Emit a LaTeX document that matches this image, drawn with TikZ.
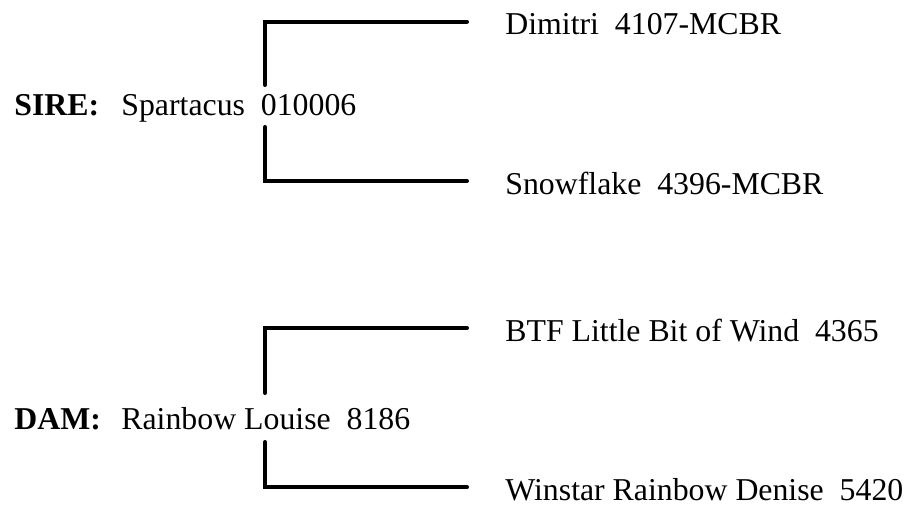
\documentclass[tikz,border=0pt]{standalone}
\usepackage{fontspec}
\setmainfont{Liberation Serif}

\begin{document}
\begin{tikzpicture}[x=0.5pt, y=-0.5pt, font=\fontsize{15.9}{18}\selectfont,
	txt/.style={anchor=base west, inner sep=0pt},
	bracket/.style={line width=2pt, line cap=round}]

	\def \xbar{265};
	\def \xtxt{505};

	\useasboundingbox (0,0) rectangle (911,506);

	% sire
	\node[txt] (sirelabel) at (14,116) {\textbf{SIRE:}};
	\node[txt] (sire) at (121,116) {Spartacus~~010006};
	\node[txt] (dimitri) at (\xtxt,35) {Dimitri~~4107-MCBR};
	\node[txt] (snowflake) at (\xtxt,195) {Snowflake~~4396-MCBR};

	\coordinate (sireup) at (\xbar,85);
	\coordinate (siredown) at (\xbar,127);

	\draw[bracket] (sireup) |- ([xshift=-19pt,yshift=1.5pt]dimitri.west);
	\draw[bracket] (siredown) |- ([xshift=-19pt,yshift=1.5pt]snowflake.west);

	% dam
	\node[txt] (damlabel) at (14,430) {\textbf{DAM:}};
	\node[txt] (dam) at (121,430) {Rainbow Louise~~8186};
	\node[txt] (btf) at (\xtxt,342) {BTF Little Bit of Wind~~4365};
	\node[txt] (winstar) at (\xtxt,501) {Winstar Rainbow Denise~~5420};

	\coordinate (damup) at (\xbar,393);
	\coordinate (damdown) at (\xbar,442);

	\draw[bracket] (damup) |- ([xshift=-19pt,yshift=1.5pt]btf.west);
	\draw[bracket] (damdown) |- ([xshift=-19pt,yshift=1.5pt]winstar.west);

\end{tikzpicture}
\end{document}
